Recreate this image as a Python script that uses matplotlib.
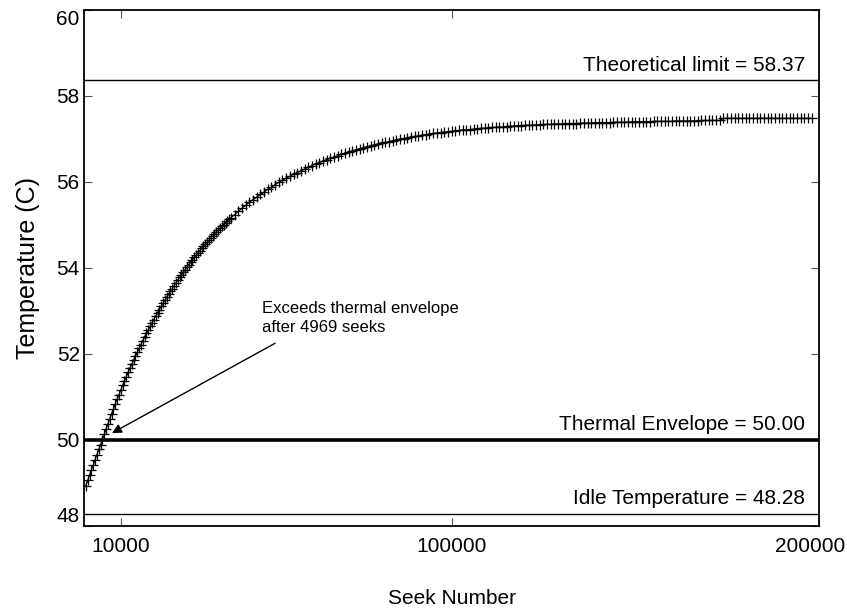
"""
Temperature rise versus seek number, with idle, envelope and theoretical limits.
"""

import matplotlib
matplotlib.use("Agg")
import matplotlib.pyplot as plt
from matplotlib.transforms import ScaledTranslation
import numpy as np

plt.rcParams["font.family"] = ["Liberation Sans", "DejaVu Sans"]

# ---------------------------------------------------------------------------
# Data
# ---------------------------------------------------------------------------

# seeks 500 .. 40000, every 500
temp_early = [
    48.94, 49.06, 49.18, 49.30, 49.42, 49.54, 49.66, 49.78, 49.89, 50.01,
    50.13, 50.26, 50.38, 50.49, 50.61, 50.72, 50.84, 50.95, 51.05, 51.16,
    51.27, 51.37, 51.47, 51.57, 51.67, 51.76, 51.86, 51.95, 52.04, 52.13,
    52.22, 52.31, 52.40, 52.48, 52.56, 52.64, 52.72, 52.80, 52.88, 52.96,
    53.03, 53.11, 53.18, 53.25, 53.32, 53.39, 53.46, 53.52, 53.59, 53.65,
    53.72, 53.78, 53.84, 53.90, 53.96, 54.02, 54.08, 54.13, 54.19, 54.25,
    54.30, 54.35, 54.40, 54.46, 54.51, 54.55, 54.60, 54.65, 54.70, 54.74,
    54.79, 54.84, 54.88, 54.92, 54.97, 55.01, 55.05, 55.09, 55.13, 55.17,
]

# seeks 41000 .. 198000, every 1000
temp_late = [
    55.24, 55.32, 55.39, 55.46, 55.53, 55.59, 55.65, 55.71, 55.77, 55.83,
    55.88, 55.94, 55.99, 56.04, 56.09, 56.13, 56.18, 56.22, 56.26, 56.30,
    56.34, 56.38, 56.42, 56.45, 56.49, 56.52, 56.55, 56.58, 56.61, 56.64,
    56.67, 56.70, 56.72, 56.75, 56.77, 56.80, 56.82, 56.84, 56.86, 56.89,
    56.91, 56.92, 56.94, 56.96, 56.98, 57.00, 57.01, 57.03, 57.05, 57.06,
    57.07, 57.09, 57.10, 57.11, 57.13, 57.14, 57.15, 57.16, 57.17, 57.18,
    57.19, 57.20, 57.21, 57.21, 57.22, 57.23, 57.24, 57.25, 57.25, 57.26,
    57.27, 57.27, 57.28, 57.28, 57.29, 57.30, 57.30, 57.31, 57.31, 57.32,
    57.32, 57.32, 57.33, 57.33, 57.34, 57.34, 57.34, 57.35, 57.35, 57.35,
    57.36, 57.36, 57.36, 57.36, 57.37, 57.37, 57.37, 57.37, 57.38, 57.38,
    57.38, 57.38, 57.38, 57.39, 57.39, 57.39, 57.39, 57.39, 57.40, 57.40,
    57.40, 57.40, 57.40, 57.40, 57.41, 57.41, 57.41, 57.41, 57.41, 57.41,
    57.42, 57.42, 57.42, 57.42, 57.42, 57.42, 57.42, 57.43, 57.43, 57.43,
    57.43, 57.43, 57.43, 57.48, 57.48, 57.48, 57.48, 57.48, 57.48, 57.48,
    57.48, 57.48, 57.48, 57.48, 57.48, 57.48, 57.48, 57.48, 57.48, 57.48,
    57.48, 57.48, 57.48, 57.48, 57.48, 57.48, 57.48, 57.48,
]

seek_early = np.arange(500, 40001, 500)
seek_late = np.arange(41000, 198001, 1000)

idle_temp = 48.28
envelope_temp = 50.00
limit_temp = 58.37
exceed_seeks = 4969

x_ticks = [10000, 100000, 200000]
y_ticks = [48, 50, 52, 54, 56, 58, 60]

# ---------------------------------------------------------------------------
# Figure
# ---------------------------------------------------------------------------

seeks = np.concatenate([seek_early, seek_late])
temps = np.array(temp_early + temp_late)

fig = plt.figure(figsize=(8.47, 6.09), dpi=100)
ax = fig.add_axes([0.0992, 0.1363, 0.8678, 0.8473])

ax.plot(seeks, temps, linestyle="-", linewidth=0.9, marker="+",
        color="black", markersize=7, markeredgewidth=0.9)

ax.axhline(limit_temp, color="black", linewidth=1.0)
ax.axhline(envelope_temp, color="black", linewidth=2.6)
ax.axhline(idle_temp, color="black", linewidth=1.0)

for value, label in [
    (limit_temp, f"Theoretical limit = {limit_temp:.2f}"),
    (envelope_temp, f"Thermal Envelope = {envelope_temp:.2f}"),
    (idle_temp, f"Idle Temperature = {idle_temp:.2f}"),
]:
    ax.annotate(label, xy=(0.981, value), xycoords=("axes fraction", "data"),
                xytext=(0, 4), textcoords="offset points",
                ha="right", va="bottom", fontsize=15)

ax.annotate("", xy=(7600, 50.16), xytext=(52000, 52.25),
            arrowprops=dict(arrowstyle="-|>", color="black", lw=1.0,
                            mutation_scale=14, shrinkA=0, shrinkB=0))
ax.text(48400, 52.45, f"Exceeds thermal envelope\nafter {exceed_seeks} seeks",
        ha="left", va="bottom", fontsize=12, linespacing=1.3)

ax.set_xlim(0, 200000)
ax.set_ylim(48, 60)
ax.set_xticks(x_ticks)
ax.set_xticklabels([str(t) for t in x_ticks])
ax.set_yticks(y_ticks)

ax.tick_params(direction="in", length=6, width=0.8, color="#555555",
               labelsize=15, top=True, right=True, pad=8)
ax.tick_params(axis="y", pad=3)

# end labels pulled inwards like the original
ylabels = ax.get_yticklabels()
ylabels[0].set_va("bottom")
ylabels[-1].set_va("top")
xlabels = ax.get_xticklabels()
xlabels[-1].set_transform(xlabels[-1].get_transform()
                          + ScaledTranslation(-9 / 100, 0, fig.dpi_scale_trans))

for spine in ax.spines.values():
    spine.set_linewidth(1.3)

ax.set_xlabel("Seek Number", fontsize=15, labelpad=24)
ax.set_ylabel("Temperature (C)", fontsize=18, labelpad=12)

fig.savefig("out.png", dpi=100)
